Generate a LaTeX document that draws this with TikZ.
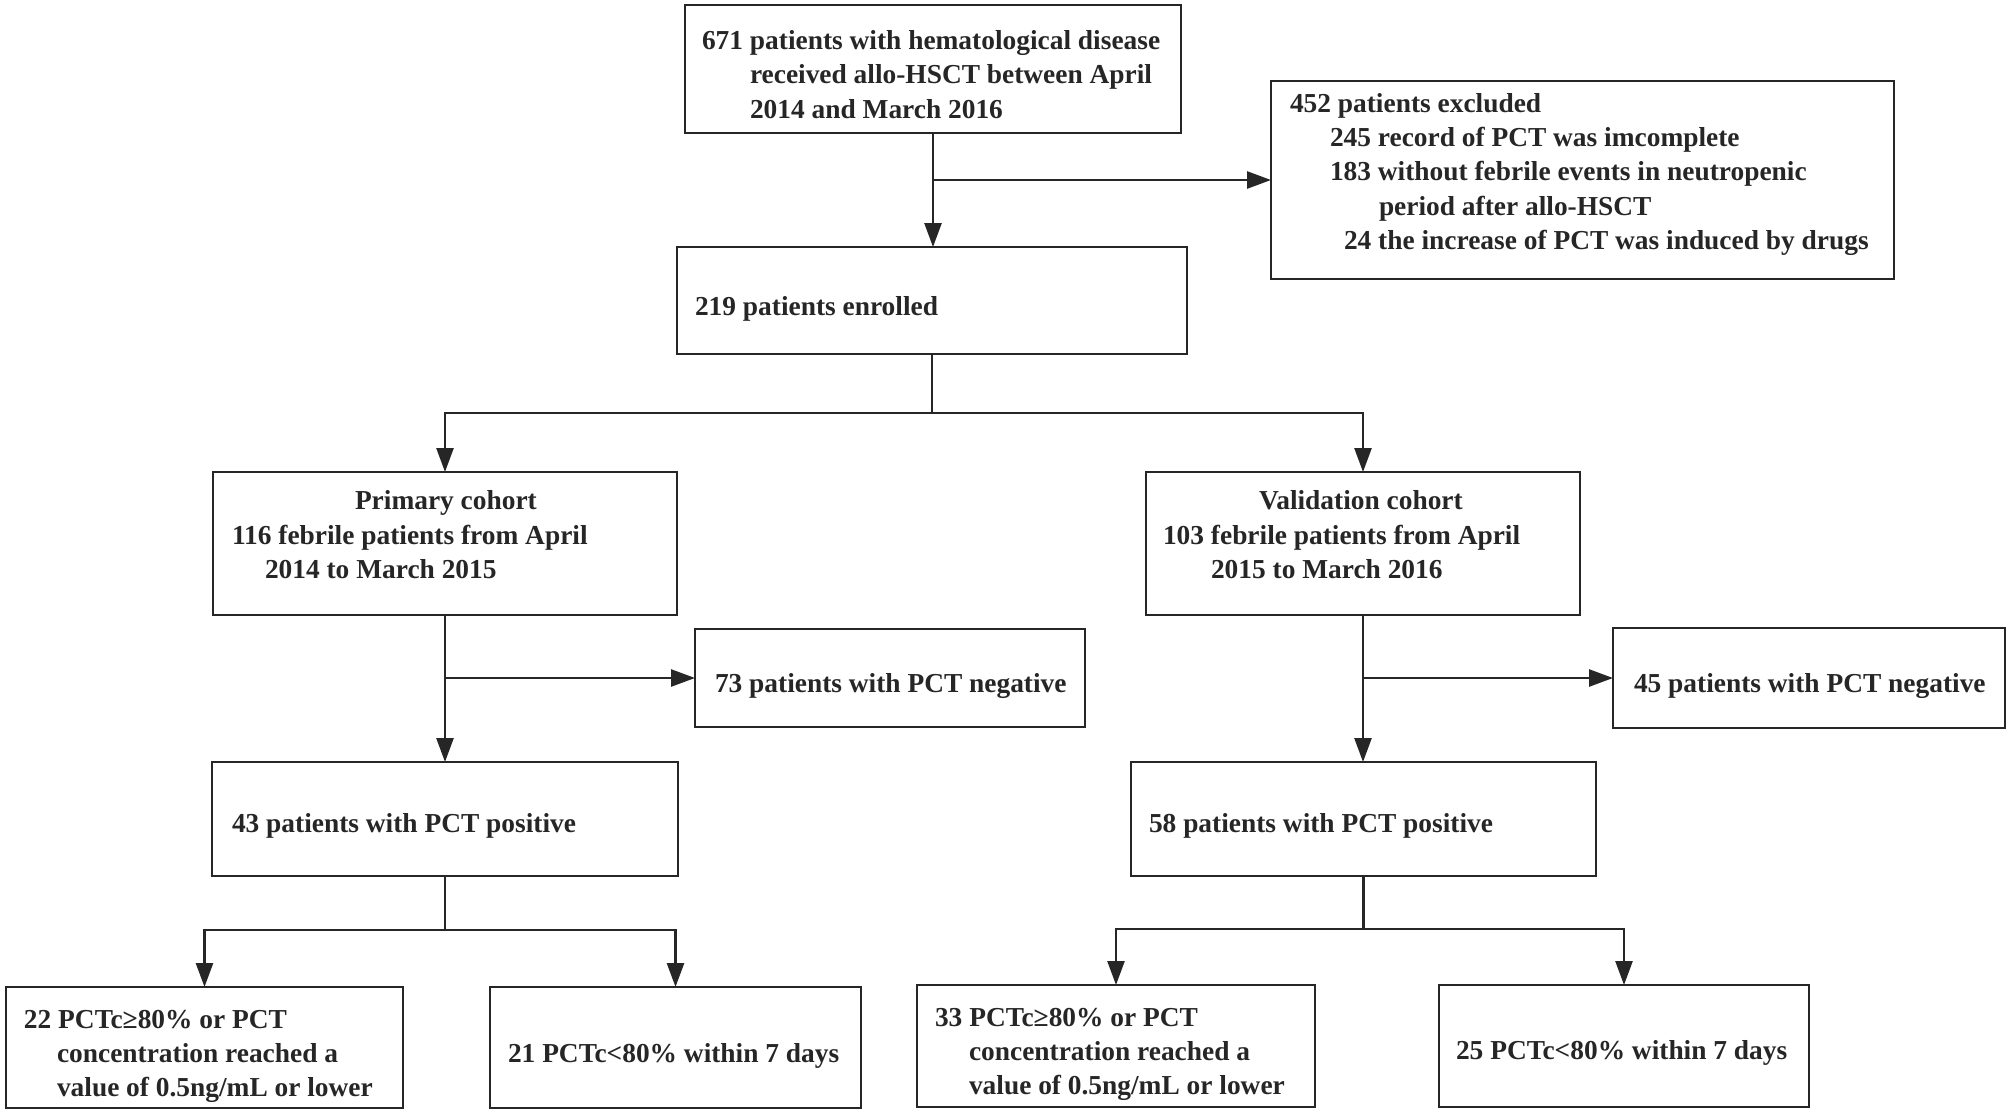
\documentclass[tikz,border=0pt]{standalone}
\usepackage{fontspec}
\setmainfont{Liberation Serif}
\usetikzlibrary{arrows.meta,calc}
\definecolor{ink}{RGB}{38,38,38}
\newcommand\bx[4]{\parbox[t][#2][t]{#1}{\raggedright\vspace*{#3}\rule{0pt}{9.5pt}#4}}
\newcommand\ind[1]{\hspace*{#1}}
\begin{document}
\begin{tikzpicture}[x=0.5pt,y=-0.5pt,
  fbox/.style={draw=ink,line width=1.4pt,inner sep=0pt,outer sep=0pt,anchor=north west,text=ink,
    font=\bfseries\fontsize{13.7pt}{17.2pt}\selectfont},
  arr/.style={draw=ink,line width=1.3pt,-{Triangle[length=12pt,width=8.5pt]}},
  ln/.style={draw=ink,line width=1.3pt}]
\useasboundingbox (0,0) rectangle (2008,1114);
\fill[white] (0,0) rectangle (2008,1114);

\node[fbox] (top) at (685,5) {\bx{248pt}{64pt}{12.7pt}{%
  \ind{8.5pt}671 patients with hematological disease\\
  \ind{32.5pt}received allo-HSCT between April\\
  \ind{32.5pt}2014 and March 2016}};

\node[fbox] (excl) at (1271,81) {\bx{311.5pt}{99pt}{6pt}{%
  \ind{9.5pt}452 patients excluded\\
  \ind{29.5pt}245 record of PCT was imcomplete\\
  \ind{29.5pt}183 without febrile events in neutropenic\\
  \ind{54pt}period after allo-HSCT\\
  \ind{36.5pt}24 the increase of PCT was induced by drugs}};

\node[fbox] (enr) at (677,247) {\bx{255pt}{53.5pt}{24.5pt}{%
  \ind{9pt}219 patients enrolled}};

\node[fbox] (prim) at (213,472) {\bx{232pt}{71.5pt}{9.3pt}{%
  \ind{71pt}Primary cohort\\
  \ind{9.5pt}116 febrile patients from April\\
  \ind{26pt}2014 to March 2015}};

\node[fbox] (val) at (1146,472) {\bx{217pt}{71.5pt}{9.3pt}{%
  \ind{56.5pt}Validation cohort\\
  \ind{8.5pt}103 febrile patients from April\\
  \ind{32.5pt}2015 to March 2016}};

\node[fbox] (neg1) at (695,629) {\bx{195pt}{49pt}{22pt}{%
  \ind{10pt}73 patients with PCT negative}};

\node[fbox] (pos1) at (212,762) {\bx{233pt}{57pt}{25.5pt}{%
  \ind{10pt}43 patients with PCT positive}};

\node[fbox] (neg2) at (1613,628) {\bx{196pt}{50pt}{22.5pt}{%
  \ind{10.5pt}45 patients with PCT negative}};

\node[fbox] (pos2) at (1131,762) {\bx{232.5pt}{57pt}{25.5pt}{%
  \ind{9pt}58 patients with PCT positive}};

\node[fbox] (r1) at (6,987) {\bx{198.5pt}{60.5pt}{11pt}{%
  \ind{9pt}22 PCTc≥80\% or PCT\\
  \ind{25.5pt}concentration reached a\\
  \ind{25.5pt}value of 0.5ng/mL or lower}};

\node[fbox] (r2) at (490,987) {\bx{185.5pt}{60.5pt}{28pt}{%
  \ind{9pt}21 PCTc<80\% within 7 days}};

\node[fbox] (r3) at (917,985) {\bx{199pt}{61pt}{11pt}{%
  \ind{9pt}33 PCTc≥80\% or PCT\\
  \ind{26pt}concentration reached a\\
  \ind{26pt}value of 0.5ng/mL or lower}};

\node[fbox] (r4) at (1439,985) {\bx{185pt}{61pt}{27.5pt}{%
  \ind{8.5pt}25 PCTc<80\% within 7 days}};

% connectors
\draw[arr] (top.south) -- (top.south |- enr.north);
\coordinate (j1) at (top.south |- excl.west);
\draw[arr] (j1) -- (excl.west);

\coordinate (s1) at ($(enr.south)+(0,59)$);
\draw[ln] (enr.south) -- (s1);
\draw[arr] (s1) -| (prim.north);
\draw[arr] (s1) -| (val.north);

\draw[arr] (prim.south) -- (prim.south |- pos1.north);
\coordinate (j2) at (prim.south |- neg1.west);
\draw[arr] (j2) -- (neg1.west);

\draw[arr] (val.south) -- (val.south |- pos2.north);
\coordinate (j3) at (val.south |- neg2.west);
\draw[arr] (j3) -- (neg2.west);

\coordinate (s2) at ($(pos1.south)+(0,54)$);
\draw[ln] (pos1.south) -- (s2);
\draw[arr] (s2) -| (r1.north);
\draw[arr] (s2) -| (r2.north);

\coordinate (s3) at ($(pos2.south)+(0,53)$);
\draw[ln] (pos2.south) -- (s3);
\draw[arr] (s3) -| (r3.north);
\draw[arr] (s3) -| (r4.north);
\end{tikzpicture}
\end{document}
